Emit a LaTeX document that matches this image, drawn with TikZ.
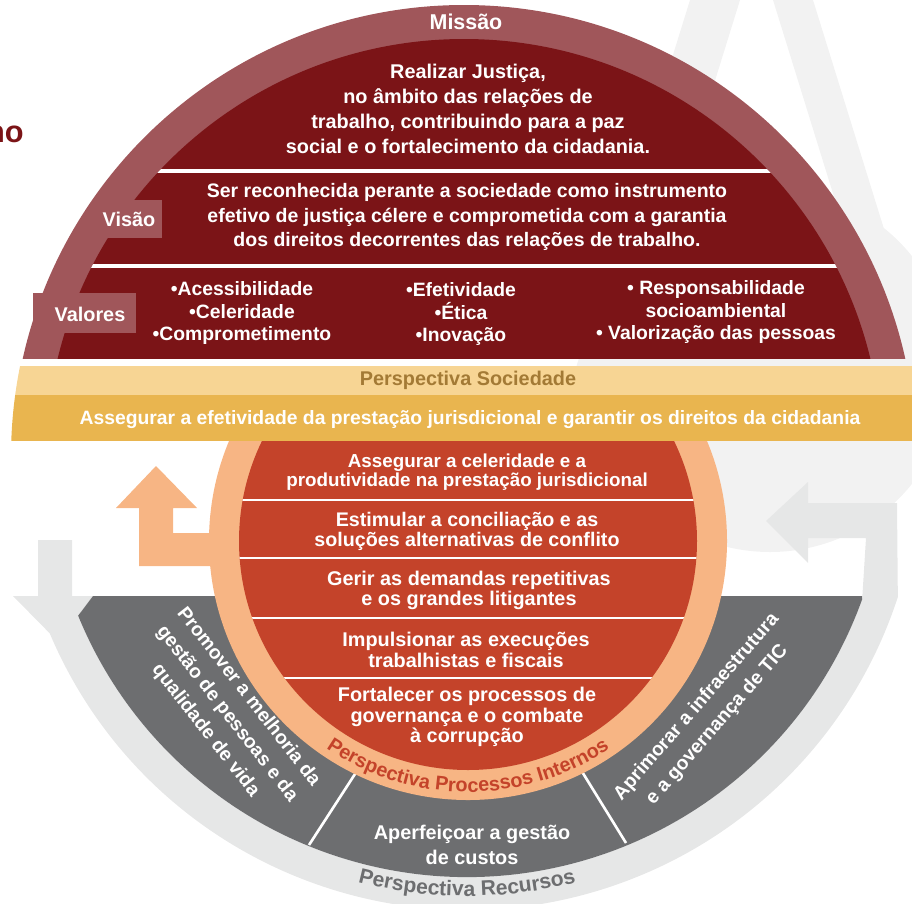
\documentclass[tikz,border=0pt]{standalone}
\usepackage{fontspec}
\setmainfont{Liberation Sans}
\usetikzlibrary{decorations.text,positioning}
\definecolor{bandred}{HTML}{A0565A}
\definecolor{darkred}{HTML}{7B1417}
\definecolor{lightyellow}{HTML}{F7D594}
\definecolor{gold}{HTML}{E9B54F}
\definecolor{soctext}{HTML}{A37A35}
\definecolor{salmon}{HTML}{F7B584}
\definecolor{brick}{HTML}{C4432A}
\definecolor{darkgrey}{HTML}{6D6E70}
\definecolor{lightgrey}{HTML}{E6E7E7}
\definecolor{faintgrey}{HTML}{F2F2F2}
\tikzset{
  txt/.style={text=white,font=\bfseries\fontsize{11.3}{14}\selectfont,align=center,inner sep=0pt},
  tab/.style={fill=bandred},
  sepline/.style={white,line width=2.4pt},
  thinline/.style={white,line width=1.2pt},
}

\begin{document}
\begin{tikzpicture}[x=0.02cm,y=0.02cm]
  \useasboundingbox (0,0) rectangle (912,-903);
  \clip (0,0) rectangle (912,-903);

  % watermark in the back
  \fill[faintgrey] (770,-370) circle[radius=182];
  \fill[faintgrey] (773,0) -- (813,0) -- (999,-600) -- (959,-600) -- cycle;
  \fill[faintgrey] (690,0) -- (740,0) -- (616,-400) -- (566,-400) -- cycle;

  \node[anchor=east,text=darkred,font=\bfseries\fontsize{17.5}{20}\selectfont,inner sep=0pt] (head) at (24,-134) {no};

  % grey ring with its two arrows
  \fill[lightgrey] (38,-540) -- (38,-596) -- (13,-596) -- ([shift={(202.9:453)}]467,-457)
     arc[start angle=202.9,end angle=342,radius=453] -- (897,-503) -- (808,-503) -- (808,-482)
     -- (766,-521) -- (808,-563) -- (808,-538) -- (866,-538) -- ([shift={(340.2:420)}]467,-457)
     arc[start angle=340.2,end angle=202.2,radius=420] -- (93,-596) -- (72,-596) -- (72,-540) -- cycle;
  \fill[darkgrey] (93,-596) -- (862,-596) -- ([shift={(340.2:420)}]467,-457)
     arc[start angle=340.2,end angle=202.2,radius=420] -- cycle;
  \draw[white,line width=1.5pt] (366,-757) -- (309,-845);
  \draw[white,line width=1.5pt] (573,-757) -- (626,-843);

  % orange arrow and inner circle
  \fill[salmon] (156,-466) -- (197,-508) -- (173,-508) -- (173,-533) -- (240,-533) -- (240,-566)
     -- (139,-566) -- (139,-508) -- (116,-508) -- cycle;
  \begin{scope}
    \clip (0,-441) rectangle (912,-903);
    \fill[salmon] (468,-541) circle[radius=259];
    \fill[brick] (468,-541) circle[radius=229];
    \clip (468,-541) circle[radius=229];
    \foreach \y in {500,558,618,678}
      \draw[thinline] (200,-\y) -- (740,-\y);
  \end{scope}

  % dome
  \begin{scope}
    \clip (0,-358) rectangle (912,0);
    \fill[bandred] (464,-457) circle[radius=452];
    \fill[darkred] (464,-457) circle[radius=418];
    \clip (464,-457) circle[radius=418];
    \foreach \y in {171,266}
      \draw[sepline] (0,-\y) -- (912,-\y);
  \end{scope}
  \fill[tab] (97,-200) rectangle (162,-238);
  \fill[tab] (33,-293) rectangle (136,-333);

  % society bands
  \begin{scope}
    \clip (467,-457) circle[radius=456];
    \fill[lightyellow] (0,-366) rectangle (912,-395);
    \fill[gold] (0,-395) rectangle (912,-441);
  \end{scope}

  \node[txt,font=\bfseries\fontsize{12.2}{14}\selectfont] (missao) at (466,-22) {Missão};
  \node[txt,font=\bfseries\fontsize{11.3}{14.1}\selectfont] (missaotxt) at (468,-109)
    {Realizar Justiça,\\no âmbito das relações de\\trabalho, contribuindo para a paz\\social e o fortalecimento da cidadania.};
  \node[txt] (visao) at (129,-219) {Visão};
  \node[txt,font=\bfseries\fontsize{11.1}{13.7}\selectfont] (visaotxt) at (467,-217)
    {Ser reconhecida perante a sociedade como instrumento\\efetivo de justiça célere e comprometida com a garantia\\dos direitos decorrentes das relações de trabalho.};
  \node[txt] (valores) at (90,-314) {Valores};
  \node[txt,font=\bfseries\fontsize{11}{12.8}\selectfont] (val1) at (242,-313) {•Acessibilidade\\•Celeridade\\•Comprometimento};
  \node[txt,font=\bfseries\fontsize{11}{12.8}\selectfont] (val2) at (461,-314) {•Efetividade\\•Ética\\•Inovação};
  \node[txt,font=\bfseries\fontsize{11}{12.8}\selectfont] (val3) at (716,-312) {• Responsabilidade\\socioambiental\\• Valorização das pessoas};

  \node[txt,text=soctext] (soc) at (468,-380) {Perspectiva Sociedade};
  \node[txt,font=\bfseries\fontsize{11}{14}\selectfont] (soctxt) at (470,-420) {Assegurar a efetividade da prestação jurisdicional e garantir os direitos da cidadania};

  \node[txt,font=\bfseries\fontsize{10.7}{10}\selectfont] (p1) at (467,-472) {Assegurar a celeridade e a\\produtividade na prestação jurisdicional};
  \node[txt,font=\bfseries\fontsize{11.2}{11.4}\selectfont] (p2) at (467,-531) {Estimular a conciliação e as\\soluções alternativas de conflito};
  \node[txt,font=\bfseries\fontsize{11.3}{11.4}\selectfont] (p3) at (469,-590) {Gerir as demandas repetitivas\\e os grandes litigantes};
  \node[txt,font=\bfseries\fontsize{11.3}{12}\selectfont] (p4) at (466,-650) {Impulsionar as execuções\\trabalhistas e fiscais};
  \node[txt,font=\bfseries\fontsize{11.3}{11.7}\selectfont] (p5) at (467,-717) {Fortalecer os processos de\\governança e o combate\\à corrupção};

  \path[decorate,decoration={text along path,text align=center,text color=brick,
      text={|\bfseries\fontsize{11.3}{13}\selectfont|Perspectiva Processos Internos}}]
    ([shift={(228:251)}]468,-541) arc[start angle=228,end angle=312,radius=251];

  \node[txt,rotate=-52,font=\bfseries\fontsize{11}{15.5}\selectfont] (r1) at (227,-714) {Promover a melhoria da\\gestão de pessoas e da\\qualidade de vida};
  \node[txt,font=\bfseries\fontsize{11.3}{14.2}\selectfont] (r2) at (472,-845) {Aperfeiçoar a gestão\\de custos};
  \node[txt,rotate=49,font=\bfseries\fontsize{11}{15.5}\selectfont] (r3) at (707,-716) {Aprimorar a infraestrutura\\e a governança de TIC};

  \path[decorate,decoration={text along path,text align=center,text color=darkgrey,
      text={|\bfseries\fontsize{12}{14}\selectfont|Perspectiva Recursos}}]
    ([shift={(240:439)}]467,-457) arc[start angle=240,end angle=300,radius=439];
\end{tikzpicture}
\end{document}
